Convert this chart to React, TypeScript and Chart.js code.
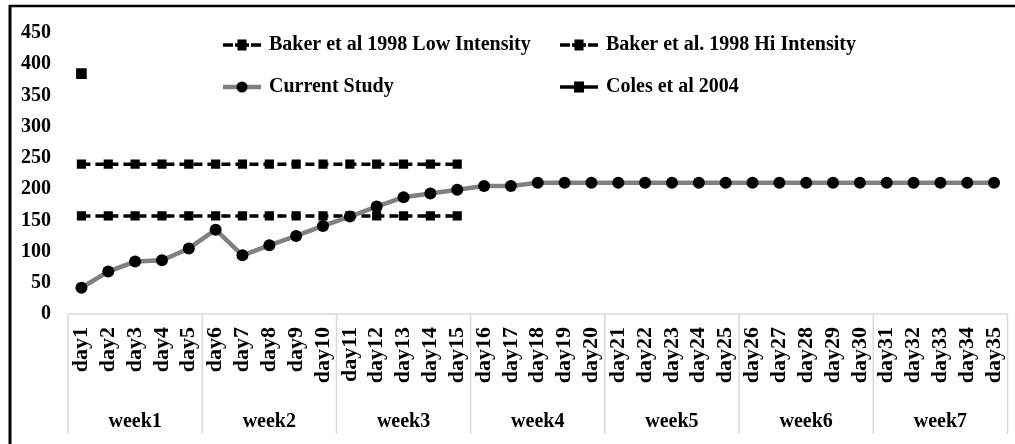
import React, { useEffect, useRef } from "react";
import { Chart, registerables } from "chart.js";

Chart.register(...registerables);

const days = [
  "day1", "day2", "day3", "day4", "day5", "day6", "day7", "day8", "day9", "day10",
  "day11", "day12", "day13", "day14", "day15", "day16", "day17", "day18", "day19", "day20",
  "day21", "day22", "day23", "day24", "day25", "day26", "day27", "day28", "day29", "day30",
  "day31", "day32", "day33", "day34", "day35",
];
const weeks = ["week1", "week2", "week3", "week4", "week5", "week6", "week7"];
const daysPerWeek = 5;

const currentStudy = [
  42, 68, 84, 86, 105, 135, 94, 110, 125, 141,
  156, 172, 187, 193, 199, 205, 205, 210, 210, 210,
  210, 210, 210, 210, 210, 210, 210, 210, 210, 210,
  210, 210, 210, 210, 210,
];
const bakerLow = [
  157, 157, 157, 157, 157, 157, 157, 157, 157, 157,
  157, 157, 157, 157, 157, null, null, null, null, null,
  null, null, null, null, null, null, null, null, null, null,
  null, null, null, null, null,
];
const bakerHi = [
  240, 240, 240, 240, 240, 240, 240, 240, 240, 240,
  240, 240, 240, 240, 240, null, null, null, null, null,
  null, null, null, null, null, null, null, null, null, null,
  null, null, null, null, null,
];
const coles = [
  385, null, null, null, null, null, null, null, null, null,
  null, null, null, null, null, null, null, null, null, null,
  null, null, null, null, null, null, null, null, null, null,
  null, null, null, null, null,
];
const yTicks = [0, 50, 100, 150, 200, 250, 300, 350, 400, 450];

const FONT = '"Liberation Serif", "Times New Roman", serif';

const framePlugin = {
  id: "frame",
  afterDraw(chart: any) {
    const ctx = chart.ctx;
    ctx.save();
    ctx.strokeStyle = "#000";
    ctx.lineWidth = 2.5;
    ctx.beginPath();
    ctx.moveTo(9, 6);
    ctx.lineTo(1015, 6);
    ctx.stroke();
    ctx.lineWidth = 3;
    ctx.beginPath();
    ctx.moveTo(10, 5);
    ctx.lineTo(10, 444);
    ctx.stroke();
    ctx.restore();
  },
};

const boxPlugin = {
  id: "axisBoxes",
  beforeDatasetsDraw(chart: any) {
    const ctx = chart.ctx;
    const xs = chart.scales.x;
    const area = chart.chartArea;
    const bottom = 434;
    ctx.save();
    ctx.strokeStyle = "#d9d9d9";
    ctx.lineWidth = 1.5;
    ctx.beginPath();
    ctx.moveTo(area.left, area.bottom);
    ctx.lineTo(area.right, area.bottom);
    for (let k = 0; k <= weeks.length; k++) {
      let px;
      if (k === 0) px = area.left;
      else if (k === weeks.length) px = area.right;
      else px = (xs.getPixelForValue(k * daysPerWeek - 1) + xs.getPixelForValue(k * daysPerWeek)) / 2;
      ctx.moveTo(px, area.bottom);
      ctx.lineTo(px, bottom);
    }
    ctx.stroke();
    ctx.restore();
  },
};

const legendPlugin = {
  id: "gridLegend",
  afterDraw(chart: any) {
    const ctx = chart.ctx;
    const ds = chart.data.datasets;
    const items = [
      { label: ds[1].label, kind: "dash", x: 223, y: 45 },
      { label: ds[2].label, kind: "dash", x: 560, y: 45 },
      { label: ds[0].label, kind: "gray", x: 223, y: 87 },
      { label: ds[3].label, kind: "solid", x: 560, y: 87 },
    ];
    ctx.save();
    for (const it of items) {
      const x0 = it.x;
      const y = it.y;
      ctx.fillStyle = "#000";
      ctx.strokeStyle = "#000";
      if (it.kind === "dash") {
        ctx.lineWidth = 3.5;
        ctx.beginPath();
        ctx.moveTo(x0, y);
        ctx.lineTo(x0 + 10, y);
        ctx.moveTo(x0 + 28, y);
        ctx.lineTo(x0 + 38, y);
        ctx.stroke();
        ctx.fillRect(x0 + 14.5, y - 5.5, 9, 11);
        ctx.fillRect(x0 + 12, y - 1.75, 14, 3.5);
      } else if (it.kind === "gray") {
        ctx.strokeStyle = "#808080";
        ctx.lineWidth = 4.5;
        ctx.beginPath();
        ctx.moveTo(x0, y);
        ctx.lineTo(x0 + 38, y);
        ctx.stroke();
        ctx.beginPath();
        ctx.arc(x0 + 19, y, 5.5, 0, Math.PI * 2);
        ctx.fill();
      } else {
        ctx.lineWidth = 3.5;
        ctx.beginPath();
        ctx.moveTo(x0, y);
        ctx.lineTo(x0 + 38, y);
        ctx.stroke();
        ctx.fillRect(x0 + 14, y - 5.5, 10, 11);
      }
      ctx.fillStyle = "#000";
      ctx.font = "bold 20px " + FONT;
      ctx.textAlign = "left";
      ctx.textBaseline = "middle";
      ctx.fillText(it.label, x0 + 46, y);
    }
    ctx.restore();
  },
};

export default function App() {
  const ref = useRef<HTMLCanvasElement | null>(null);

  useEffect(() => {
    document.body.style.margin = "0";
    const canvas = ref.current;
    if (!canvas) return;
    const tickFont = { family: FONT, size: 20, weight: "bold" as const };
    const dayFont = { family: FONT, size: 22, weight: "bold" as const };
    const chart = new Chart(canvas, {
      type: "line",
      data: {
        labels: days,
        datasets: [
          {
            label: "Current Study",
            data: currentStudy,
            borderColor: "#808080",
            backgroundColor: "#000",
            borderWidth: 4.5,
            pointStyle: "circle",
            pointRadius: 6,
            pointBackgroundColor: "#000",
            pointBorderWidth: 0,
            order: 0,
          },
          {
            label: "Baker et al 1998 Low Intensity",
            data: bakerLow,
            borderColor: "#000",
            backgroundColor: "#000",
            borderWidth: 3.5,
            borderDash: [9, 5],
            pointStyle: "rect",
            pointRadius: 6.5,
            pointBackgroundColor: "#000",
            pointBorderWidth: 0,
            order: 1,
          },
          {
            label: "Baker et al. 1998 Hi Intensity",
            data: bakerHi,
            borderColor: "#000",
            backgroundColor: "#000",
            borderWidth: 3.5,
            borderDash: [9, 5],
            pointStyle: "rect",
            pointRadius: 6.5,
            pointBackgroundColor: "#000",
            pointBorderWidth: 0,
            order: 1,
          },
          {
            label: "Coles et al 2004",
            data: coles,
            borderColor: "#000",
            backgroundColor: "#000",
            borderWidth: 3,
            pointStyle: "rect",
            pointRadius: 7.5,
            pointBackgroundColor: "#000",
            pointBorderWidth: 0,
            order: 1,
          },
        ],
      },
      options: {
        responsive: false,
        animation: false,
        devicePixelRatio: 1,
        layout: { padding: { top: 33, left: 0, right: 7, bottom: 10 } },
        plugins: {
          legend: { display: false },
          tooltip: { enabled: false },
        },
        scales: {
          x: {
            type: "category",
            position: "bottom",
            offset: true,
            weight: 0,
            grid: { display: false, drawTicks: false },
            border: { display: false },
            ticks: {
              font: dayFont,
              color: "#000",
              minRotation: 90,
              maxRotation: 90,
              autoSkip: false,
              padding: 13,
            },
            afterFit(scale: any) {
              scale.height = 80;
              scale.paddingLeft = 0;
              scale.paddingRight = 0;
            },
          },
          xw: {
            type: "category",
            labels: weeks,
            position: "bottom",
            offset: true,
            weight: 1,
            grid: { display: false, drawTicks: false },
            border: { display: false },
            ticks: {
              font: tickFont,
              color: "#000",
              autoSkip: false,
              maxRotation: 0,
              padding: 16,
            },
            afterFit(scale: any) {
              scale.height = 40;
              scale.paddingLeft = 0;
              scale.paddingRight = 0;
            },
          },
          y: {
            min: 0,
            max: 450,
            afterBuildTicks(scale: any) {
              scale.ticks = yTicks.map((v) => ({ value: v }));
            },
            grid: { display: false, drawTicks: false },
            border: { display: false },
            ticks: { font: tickFont, color: "#000", padding: 17 },
            afterFit(scale: any) {
              scale.width = 68;
            },
          },
        },
      },
      plugins: [framePlugin, boxPlugin, legendPlugin],
    });
    return () => chart.destroy();
  }, []);

  return (
    <div style={{ width: 1015, height: 444, position: "relative", background: "#fff" }}>
      <canvas ref={ref} width={1015} height={444} style={{ display: "block" }} />
    </div>
  );
}
